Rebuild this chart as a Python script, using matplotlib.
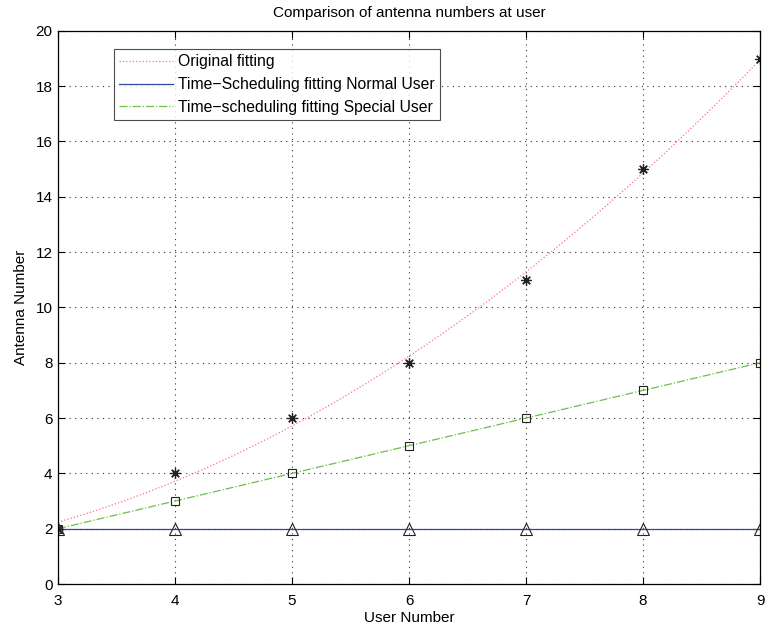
import numpy as np
import matplotlib
matplotlib.use("Agg")
import matplotlib.pyplot as plt

plt.rcParams['font.family'] = ['Liberation Sans', 'DejaVu Sans']

users = np.array([3, 4, 5, 6, 7, 8, 9])
original = np.array([2, 4, 6, 8, 11, 15, 19])
normal_user = np.array([2, 2, 2, 2, 2, 2, 2])
special_user = np.array([2, 3, 4, 5, 6, 7, 8])

# quadratic least-squares fit of the original antenna counts
coef = np.polyfit(users, original, 2)
xs = np.linspace(users.min(), users.max(), 200)
fit_orig = np.polyval(coef, xs)

FS = 11

fig = plt.figure(figsize=(7.65, 6.3), dpi=100)
ax = fig.add_axes([0.0758, 0.073, 0.9177, 0.878])

ax.plot(xs, fit_orig, linestyle=':', color='#ff7088', linewidth=0.9,
        label='Original fitting')
ax.plot(users, normal_user, linestyle='-', color='#2f4a9c', linewidth=0.9,
        label='Time\u2212Scheduling fitting Normal User')
ax.plot(users, special_user, linestyle='-.', color='#6cc04a', linewidth=0.9,
        label='Time\u2212scheduling fitting Special User')

# asterisk markers (8 spokes)
ax.plot(users, original, linestyle='none', marker=(8, 2, 0), color='#222222',
        markersize=7.5, markeredgewidth=0.9)
ax.plot(users, normal_user, linestyle='none', marker='^', markerfacecolor='none',
        markeredgecolor='#222222', markersize=8, markeredgewidth=0.8)
ax.plot(users, special_user, linestyle='none', marker='s', markerfacecolor='none',
        markeredgecolor='#222222', markersize=6, markeredgewidth=0.8)

ax.set_xlim(3, 9)
ax.set_ylim(0, 20)
ax.set_xticks(range(3, 10))
ax.set_yticks(range(0, 21, 2))
ax.grid(True, linestyle=(0, (1, 4)), color='#333333', linewidth=0.8)
ax.tick_params(direction='in', top=True, right=True, labelsize=FS, length=5,
               width=0.8)
ax.tick_params(axis='x', pad=7)
ax.tick_params(axis='y', pad=4)
for sp in ax.spines.values():
    sp.set_linewidth(0.9)

ax.set_xlabel('User Number', fontsize=FS, labelpad=2)
ax.set_ylabel('Antenna Number', fontsize=FS, labelpad=5)
ax.set_title('Comparison of antenna numbers at user', fontsize=FS, pad=10)

leg = ax.legend(loc='upper left', bbox_to_anchor=(114 / 765, 1 - 49 / 630),
                bbox_transform=fig.transFigure, fontsize=11.3, frameon=True,
                fancybox=False, edgecolor='#222222', borderaxespad=0,
                handlelength=3.4, handletextpad=0.3, borderpad=0.35,
                labelspacing=0.48)
leg.get_frame().set_linewidth(0.8)

fig.savefig('out.png', dpi=100)
